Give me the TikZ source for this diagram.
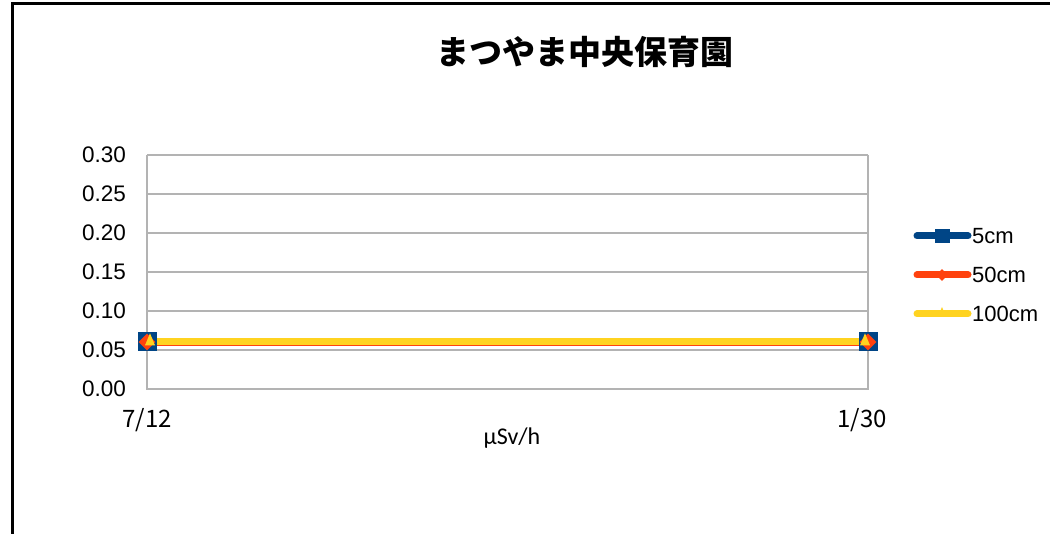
\documentclass[tikz,border=0pt]{standalone}
\usepackage{fontspec}
\setmainfont{Liberation Sans}
\newfontfamily\cjk{Noto Sans CJK JP}
\newfontfamily\carl{Carlito}
\usetikzlibrary{shapes.geometric}
\definecolor{sblue}{HTML}{004586}
\definecolor{sorange}{HTML}{FF420E}
\definecolor{syellow}{HTML}{FFD320}
\definecolor{grid}{HTML}{B3B3B3}
\tikzset{
  ticklab/.style={anchor=east,inner sep=0pt,font=\fontsize{22.5}{22.5}\selectfont},
  xlab/.style={inner sep=0pt,font=\cjk\fontsize{24}{24}\selectfont},
  leglab/.style={anchor=west,inner sep=0pt,font=\fontsize{22}{22}\selectfont},
  sqmark/.style={rectangle,fill=sblue,minimum size=19pt,inner sep=0pt},
  dimark/.style={diamond,fill=sorange,minimum size=17pt,inner sep=0pt},
  trimark/.style={isosceles triangle,shape border rotate=90,fill=syellow,minimum size=10pt,inner sep=0pt},
  serline/.style={line width=8pt,line cap=round}
}
\begin{document}
\begin{tikzpicture}[x=1pt,y=-1pt]
\useasboundingbox (0,0) rectangle (1050,534);
\fill[white] (0,0) rectangle (1050,534);
% outer frame
\draw[line width=3pt] (12,540) -- (12,4) -- (1060,4);
% title
\node[font=\cjk\bfseries\fontsize{33}{33}\selectfont,inner sep=0pt] (title) at (585,52) {まつやま中央保育園};
% grid
\foreach \y in {155,194,233,272,311,350}
  \draw[grid,line width=2.5pt] (147,\y) -- (868,\y);
\draw[grid,line width=2.5pt] (147,155) -- (147,389) -- (868,389) -- (868,155);
% y tick labels
\foreach \y/\t in {155/0.30,194/0.25,233/0.20,272/0.15,311/0.10,350/0.05,389/0.00}
  \node[ticklab] at (126,\y) {\t};
% x labels
\node[xlab] (xa) at (147,420) {7/12};
\node[xlab] (xb) at (862,420) {1/30};
\node[inner sep=0pt,font=\carl\fontsize{24}{24}\selectfont] (unit) at (512,438) {μSv/h};
% series
\coordinate (a) at (147,342);
\coordinate (b) at (868,342);
\draw[sblue,serline] (a) -- (b);
\draw[sorange,serline] (a) -- (b);
\draw[syellow,serline,line width=7pt] (a) -- (b);
\node[sqmark] (a1) at (a) {};
\node[sqmark] (b1) at (b) {};
\node[dimark] (a2) at (a) {};
\node[dimark] (b2) at (b) {};
\node[trimark] (a3) at (150,342) {};
\node[trimark] (b3) at (865,342) {};
% legend
\foreach \y/\c/\t in {236/sblue/5cm,275/sorange/50cm,314/syellow/100cm}{
  \draw[\c,line width=7pt,line cap=round] (917,\y) -- (968,\y);
  \node[leglab] at (972,\y) {\t};
}
\node[rectangle,fill=sblue,minimum width=15pt,minimum height=14pt,inner sep=0pt] (lm1) at (942,236) {};
\node[diamond,fill=sorange,minimum size=12pt,inner sep=0pt] (lm2) at (942,275) {};
\node[isosceles triangle,shape border rotate=90,fill=syellow,minimum size=8pt,inner sep=0pt] (lm3) at (942,314) {};
\end{tikzpicture}
\end{document}
